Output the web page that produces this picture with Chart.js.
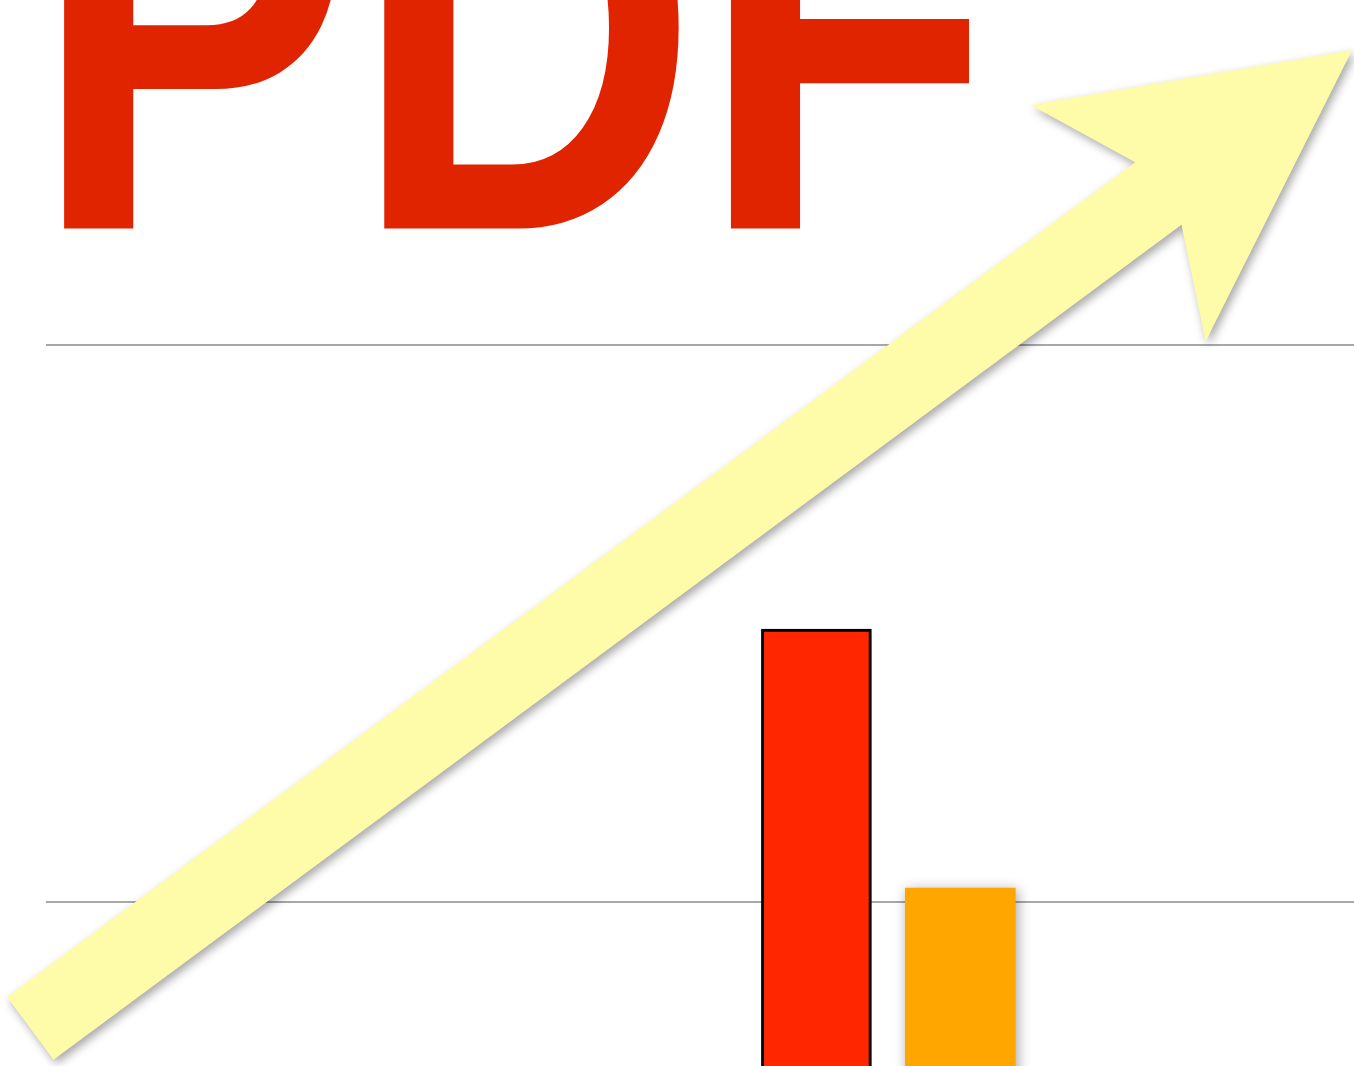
<!DOCTYPE html>
<html>
<head>
<meta charset="utf-8">
<script src="https://cdn.jsdelivr.net/npm/chart.js@4.4.1/dist/chart.umd.min.js"></script>
<style>
  html, body { margin: 0; padding: 0; background: #ffffff; overflow: hidden; }
  #wrap { position: relative; width: 1354px; height: 1066px; }
  #title {
    position: absolute; left: 32px; top: -177px; margin: 0;
    font-family: "Liberation Sans", Arial, sans-serif; font-weight: bold;
    font-size: 480px; line-height: 1; color: #E02400; white-space: nowrap;
    letter-spacing: 0; z-index: 0;
    transform: scale(1, 1.2); transform-origin: 0 408px;
  }
  #box { position: absolute; left: 0; top: 0; width: 1354px; height: 1066px; z-index: 1; }
</style>
</head>
<body>
<div id="wrap">
  <div id="title">PDF</div>
  <div id="box"><canvas id="c"></canvas></div>
</div>
<script>
// ---- data ----
const categories = ['A', 'B'];
const barPositions = [58.9, 69.9];      // x values on the linear x axis
const barValues = [29.8, 20.5];         // y values
const gridValues = [20, 40];            // gridline values
const xRange = [0, 100];
const yRange = [14.11, 52.39];
const arrowStart = [-1.2, 15.46];       // trend arrow tail (x, y)
const arrowEnd = [99.85, 50.59];        // trend arrow tip (x, y)

const barColors = ['#FF2600', '#FFA600'];
const barBorderColors = ['#000000', 'rgba(0,0,0,0)'];
const barBorderWidths = [3, 0];

const shadowPlugin = {
  id: 'shadows',
  beforeDatasetsDraw(chart) {
    const ctx = chart.ctx;
    ctx.save();
    ctx.shadowColor = 'rgba(0,0,0,0.35)';
    ctx.shadowBlur = 12;
    ctx.shadowOffsetX = 2;
    ctx.shadowOffsetY = 2;
  },
  afterDatasetsDraw(chart) {
    chart.ctx.restore();
    const ctx = chart.ctx;
    const xs = chart.scales.x, ys = chart.scales.y;
    const S = { x: xs.getPixelForValue(arrowStart[0]), y: ys.getPixelForValue(arrowStart[1]) };
    const T = { x: xs.getPixelForValue(arrowEnd[0]), y: ys.getPixelForValue(arrowEnd[1]) };
    const dx = T.x - S.x, dy = T.y - S.y, L = Math.hypot(dx, dy);
    const u = { x: dx / L, y: dy / L };
    const n = { x: -u.y, y: u.x };
    const hw = 39, headLen = 291, headHalf = 147, notch = 241;
    const P = (base, a, b) => ({ x: base.x + u.x * a + n.x * b, y: base.y + u.y * a + n.y * b });
    const pts = [
      P(S, 0, hw), P(T, -notch, hw), P(T, -headLen, headHalf), T,
      P(T, -headLen, -headHalf), P(T, -notch, -hw), P(S, 0, -hw)
    ];
    ctx.save();
    ctx.shadowColor = 'rgba(0,0,0,0.35)';
    ctx.shadowBlur = 10;
    ctx.shadowOffsetX = 3;
    ctx.shadowOffsetY = 4;
    ctx.fillStyle = '#FFFCA9';
    ctx.beginPath();
    ctx.moveTo(pts[0].x, pts[0].y);
    for (let i = 1; i < pts.length; i++) ctx.lineTo(pts[i].x, pts[i].y);
    ctx.closePath();
    ctx.fill();
    ctx.restore();
  }
};

new Chart(document.getElementById('c'), {
  type: 'bar',
  data: {
    labels: categories,
    datasets: [{
      data: barPositions.map((x, i) => ({ x: x, y: barValues[i] })),
      backgroundColor: barColors,
      borderColor: barBorderColors,
      borderWidth: barBorderWidths,
      borderSkipped: false,
      barThickness: 110
    }]
  },
  options: {
    responsive: true,
    maintainAspectRatio: false,
    animation: false,
    layout: { padding: 0 },
    plugins: { legend: { display: false }, tooltip: { enabled: false }, title: { display: false } },
    scales: {
      x: {
        type: 'linear', min: xRange[0], max: xRange[1], offset: false,
        display: false, grid: { display: false, offset: false }
      },
      y: {
        min: yRange[0], max: yRange[1],
        afterBuildTicks: (axis) => { axis.ticks = gridValues.map(v => ({ value: v })); },
        afterFit: (axis) => { axis.width = 46; },
        ticks: { display: false },
        border: { display: false },
        grid: { color: '#A8A8A8', lineWidth: 2, drawTicks: false }
      }
    }
  },
  plugins: [shadowPlugin]
});
</script>
</body>
</html>
